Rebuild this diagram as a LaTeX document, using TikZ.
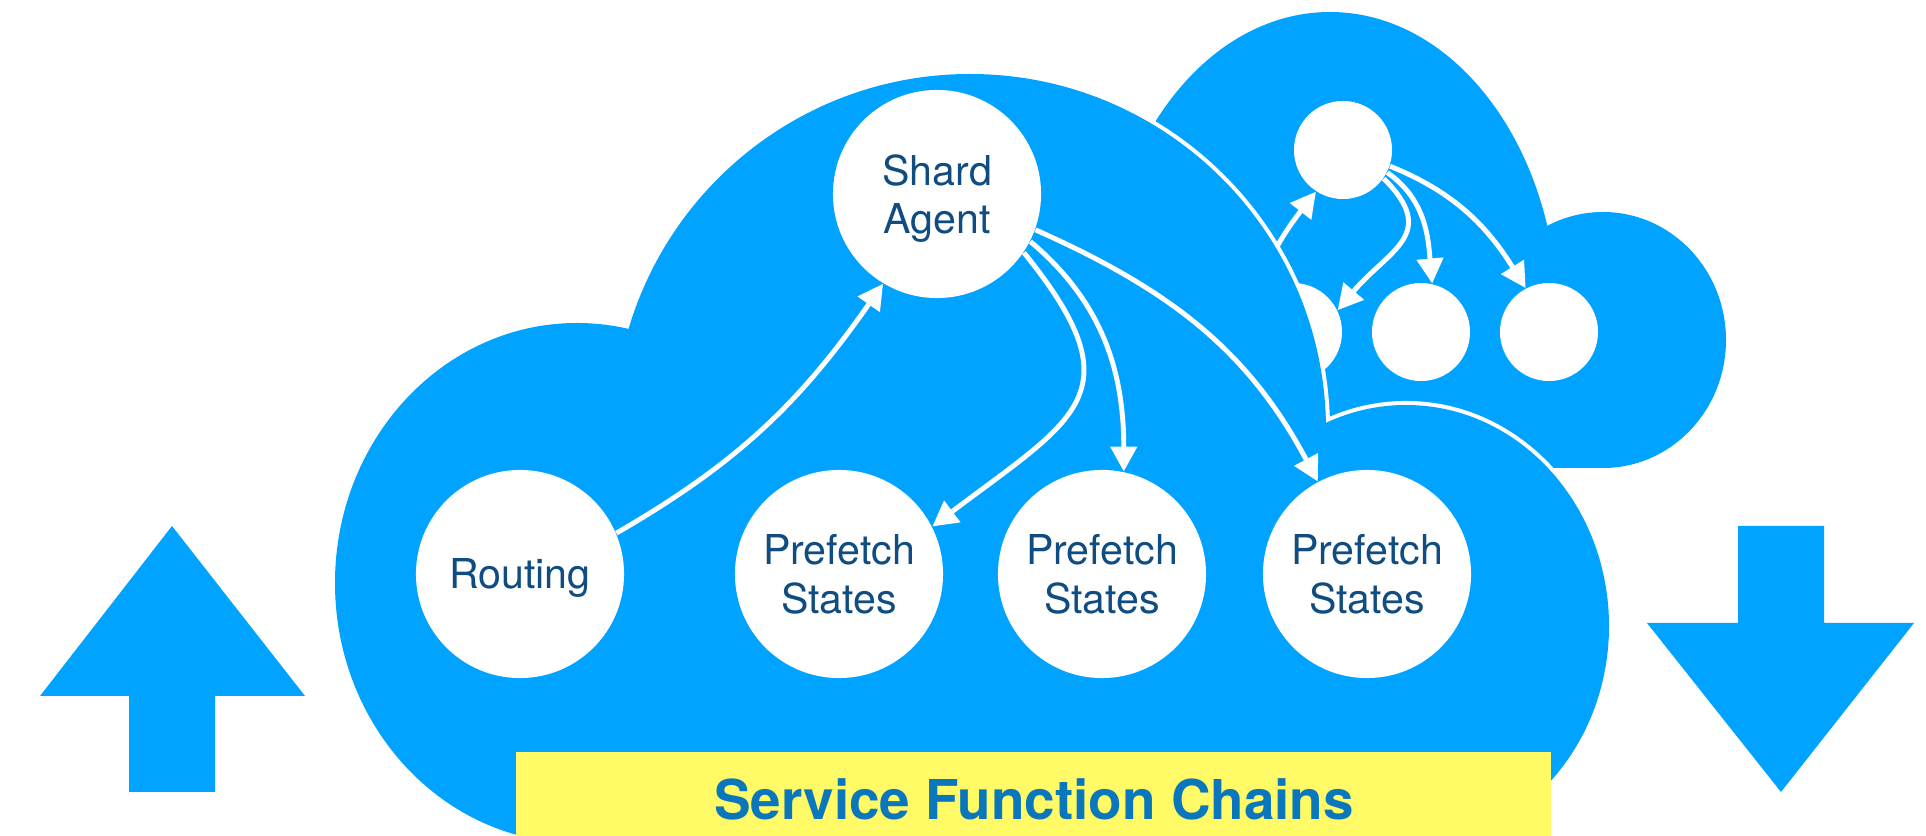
\documentclass[tikz,border=0pt]{standalone}
\usepackage{fontspec}
\setmainfont{TeX Gyre Heros}
\usetikzlibrary{arrows.meta}

\definecolor{cloudblue}{HTML}{00A3FF}
\definecolor{labelblue}{HTML}{0F4C81}
\definecolor{titleblue}{HTML}{0A77BD}
\definecolor{boxyellow}{HTML}{FFFA66}

\def \bigSize {2.08cm}
\def \smallSize {0.98cm}

\tikzset{
  bignode/.style={circle, fill=white, minimum size=\bigSize, inner sep=0pt, text depth=0pt,
    text=labelblue, align=center, font=\fontsize{11.7}{13.7}\selectfont},
  smallnode/.style={circle, fill=white, minimum size=\smallSize, inner sep=0pt},
  flow/.style={draw=white, line width=1.4pt, -{Triangle[width=0.26cm,length=0.25cm]}}
}

\begin{document}
\begin{tikzpicture}[x=0.01cm, y=0.01cm]
         \useasboundingbox (0,0) rectangle (1926,836);

         % Đám mây nhỏ phía sau
         \fill[cloudblue] (1330,517) ellipse (228 and 307);
         \fill[cloudblue] (1603,496) ellipse (123 and 128);
         \fill[cloudblue] (1150,368) rectangle (1603,517);

         \node[smallnode] (sTop) at (1343,686) {};
         \node[smallnode] (sA) at (1293,504) {};
         \node[smallnode] (sB) at (1421,504) {};
         \node[smallnode] (sC) at (1549,504) {};

         \draw[flow] (sA.150) to[out=70, in=232] (sTop.237);
         \draw[flow] (sTop.-35) to[out=-45, in=50, looseness=1.45] (sA.26);
         \draw[flow] (sTop.-27) to[out=-35, in=95] (sB.77);
         \draw[flow] (sTop.-19) to[out=-22, in=122] (sC.118);

         % Đám mây lớn, viền trắng
         \draw[white, line width=2.3pt] (577,253) ellipse (242 and 260)
              (970,406) circle (356) (1406,210) ellipse (203 and 221);
         \fill[cloudblue] (577,253) ellipse (242 and 260)
              (970,406) circle (356) (1406,210) ellipse (203 and 221);
         \fill[cloudblue] (577,-10) rectangle (1406,345);

         \node[bignode] (shard) at (937,642) {Shard\\Agent};
         \node[bignode] (routing) at (520,262) {Routing};
         \node[bignode] (pfA) at (839,262) {Prefetch\\States};
         \node[bignode] (pfB) at (1102,262) {Prefetch\\States};
         \node[bignode] (pfC) at (1367,262) {Prefetch\\States};

         \draw[flow] (routing.23) to[out=30, in=235] (shard.239);
         \draw[flow] (shard.-34) to[out=-51, in=37, looseness=1.6] (pfA.27);
         \draw[flow] (shard.-27) to[out=-40, in=90] (pfB.78);
         \draw[flow] (shard.-20) to[out=-24, in=118] (pfC.118);

         % Hộp vàng
         \fill[boxyellow] (516,0) rectangle (1551,84);
         \node[anchor=base, text=titleblue, font=\fontsize{15.6}{19}\selectfont\bfseries] (sfc) at (1034,16) {Service Function Chains};

         % Mũi tên lên, xuống
         \fill[cloudblue] (172,310) -- (305,140) -- (215,140) -- (215,44) -- (129,44) -- (129,140) -- (40,140) -- cycle;
         \fill[cloudblue] (1781,44) -- (1914,213) -- (1824,213) -- (1824,310) -- (1738,310) -- (1738,213) -- (1647,213) -- cycle;
\end{tikzpicture}
\end{document}
